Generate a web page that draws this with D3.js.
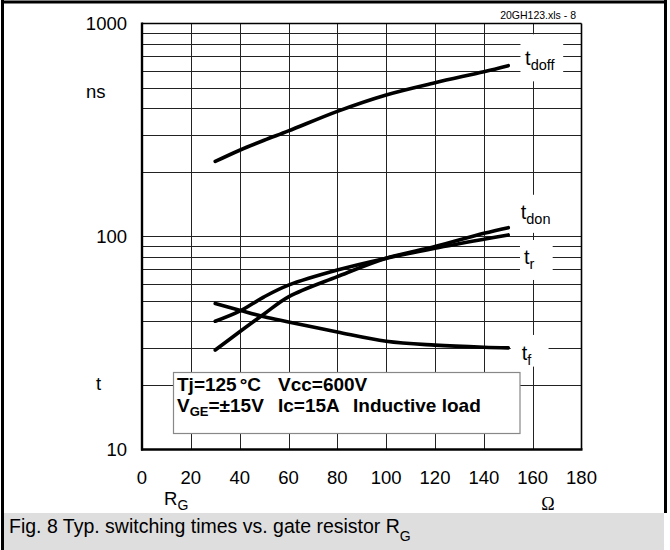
<!doctype html>
<html lang="en">
<head>
<meta charset="utf-8" />
<title>Fig. 8 Typ. switching times vs. gate resistor</title>
<style>
  html, body { margin: 0; padding: 0; background: #fff; }
  svg { display: block; font-family: "Liberation Sans", Arial, sans-serif; }
  .grid line { stroke: #222; stroke-width: 1; shape-rendering: crispEdges; }
  .tick { font-size: 18.5px; fill: #000; }
  .curve { fill: none; stroke: #000; stroke-width: 3.6; stroke-linecap: round; stroke-linejoin: round; }
</style>
</head>
<body>
<svg id="chart" width="670" height="550"></svg>
<script src="https://cdn.jsdelivr.net/npm/d3@7/dist/d3.min.js"></script>
<script>
// gate resistor (ohm) sample points
const rg = [30, 40, 50, 60, 80, 100, 120, 140, 150];
// switching times (ns)
const tdoff = [225, 254, 283, 313, 387, 462, 527, 594, 634];
const tdon = [29.3, 35.7, 43.3, 52.1, 64.8, 79.1, 89.7, 103.5, 110];
const tr = [40.0, 44.6, 52.1, 59.1, 69.6, 79.1, 88.1, 97.1, 101.7];
const tf = [48.5, 45.1, 42.0, 39.7, 35.6, 32.2, 30.9, 30.2, 30.0];

const xTicks = [0, 20, 40, 60, 80, 100, 120, 140, 160, 180];
const yTicks = [10, 100, 1000];

const svg = d3.select('#chart');
const x = d3.scaleLinear([0, 180], [142, 581.5]);
const y = d3.scaleLog([10, 1000], [449.5, 23.5]);

// outer frame + caption band
svg.append('rect').attr('x', 4).attr('y', 513).attr('width', 660).attr('height', 37).attr('fill', '#dedede');
svg.append('line').attr('x1', 2.5).attr('x2', 2.5).attr('y1', 0).attr('y2', 550).attr('stroke', '#000').attr('stroke-width', 3);
svg.append('line').attr('x1', 1).attr('x2', 667).attr('y1', 2).attr('y2', 2).attr('stroke', '#000').attr('stroke-width', 3);
svg.append('line').attr('x1', 665.5).attr('x2', 665.5).attr('y1', 0).attr('y2', 513).attr('stroke', '#000').attr('stroke-width', 3);

const cap = svg.append('text').attr('x', 9).attr('y', 533).attr('font-size', 19.5).attr('fill', '#000');
cap.append('tspan').text('Fig. 8 Typ. switching times vs. gate resistor R');
cap.append('tspan').attr('dy', 8).attr('font-size', 14).text('G');

svg.append('text').attr('x', 576).attr('y', 19).attr('text-anchor', 'end')
  .attr('font-size', 10.5).text('20GH123.xls - 8');

// grid
const grid = svg.append('g').attr('class', 'grid');
grid.selectAll('line.v').data(xTicks.slice(1, -1)).join('line').attr('class', 'v')
  .attr('x1', d => Math.round(x(d)) + 0.5).attr('x2', d => Math.round(x(d)) + 0.5)
  .attr('y1', y(1000)).attr('y2', y(10));
grid.selectAll('line.h').data(y.ticks().filter(d => d > 10 && d < 1000)).join('line').attr('class', 'h')
  .attr('x1', x(0)).attr('x2', x(180))
  .attr('y1', d => Math.round(y(d)) + 0.5).attr('y2', d => Math.round(y(d)) + 0.5);

// plot border
svg.append('line').attr('x1', x(0)).attr('x2', x(180)).attr('y1', y(1000)).attr('y2', y(1000)).attr('stroke', '#000').attr('stroke-width', 1.6);
svg.append('line').attr('x1', x(180)).attr('x2', x(180)).attr('y1', y(1000)).attr('y2', y(10)).attr('stroke', '#000').attr('stroke-width', 1.6);
svg.append('line').attr('x1', x(0)).attr('x2', x(0)).attr('y1', y(1000) - 1).attr('y2', y(10) + 1).attr('stroke', '#000').attr('stroke-width', 2.4);
svg.append('line').attr('x1', x(0) - 1).attr('x2', x(180) + 1).attr('y1', y(10)).attr('y2', y(10)).attr('stroke', '#000').attr('stroke-width', 2.6);

// curve labels (white patches cut the grid)
const labels = [
  { t: 'doff', x: 156.9, v: 640, patch: [155, 172.5, 890, 535] },
  { t: 'don', x: 155.1, v: 121, patch: [153.5, 169.5, 157, 104] },
  { t: 'r', x: 156.4, v: 74.3, patch: [154.8, 168.2, 96.3, 62.5] },
  { t: 'f', x: 155.5, v: 26.3, patch: [151, 166.5, 34.5, 24.5] },
];
labels.forEach(l => {
  const [a, b, top, bot] = l.patch;
  svg.append('rect').attr('x', x(a)).attr('y', y(top)).attr('width', x(b) - x(a)).attr('height', y(bot) - y(top)).attr('fill', '#fff');
  const t = svg.append('text').attr('x', x(l.x)).attr('y', y(l.v)).attr('font-size', 20);
  t.append('tspan').text('t');
  t.append('tspan').attr('dy', 5).attr('font-size', 14.5).text(l.t);
});

// curves
const line = d3.line().x((d, i) => x(rg[i])).y(d => y(d)).curve(d3.curveCatmullRom.alpha(0.5));
[tdoff, tdon, tr, tf].forEach(s => {
  svg.append('path').attr('class', 'curve').attr('d', line(s));
});

// conditions box
svg.append('rect').attr('x', 173.5).attr('y', 372.5).attr('width', 346.5).attr('height', 61)
  .attr('fill', '#fff').attr('stroke', '#888').attr('stroke-width', 1.2);
const c1 = svg.append('text').attr('x', 177).attr('y', 391).attr('font-size', 19).attr('font-weight', 'bold');
c1.append('tspan').text('Tj=125');
c1.append('tspan').attr('dx', 3).text('\u00b0C');
c1.append('tspan').attr('x', 278).text('Vcc=600V');
const c2 = svg.append('text').attr('x', 177).attr('y', 412).attr('font-size', 19).attr('font-weight', 'bold');
c2.append('tspan').text('V');
c2.append('tspan').attr('dy', 4).attr('font-size', 13).text('GE');
c2.append('tspan').attr('dy', -4).text('=\u00b115V');
c2.append('tspan').attr('x', 278).text('Ic=15A');
c2.append('tspan').attr('x', 353).text('Inductive load');

// y labels
svg.selectAll('text.ylab').data(yTicks).join('text').attr('class', 'tick ylab')
  .attr('x', 127).attr('y', d => y(d) + 6.5).attr('text-anchor', 'end').text(d => d);
svg.append('text').attr('class', 'tick').attr('x', 86).attr('y', 98).text('ns');
svg.append('text').attr('class', 'tick').attr('x', 96).attr('y', 390).text('t');

// x labels
svg.selectAll('text.xlab').data(xTicks).join('text').attr('class', 'tick xlab')
  .attr('x', d => x(d)).attr('y', 484).attr('text-anchor', 'middle').text(d => d);
const rlab = svg.append('text').attr('class', 'tick').attr('x', 164).attr('y', 505);
rlab.append('tspan').text('R');
rlab.append('tspan').attr('dy', 5).attr('font-size', 14).text('G');
svg.append('text').attr('x', 548).attr('y', 510).attr('text-anchor', 'middle')
  .attr('font-family', '"Liberation Serif", serif').attr('font-size', 18).text('\u03a9');
</script>
</body>
</html>
